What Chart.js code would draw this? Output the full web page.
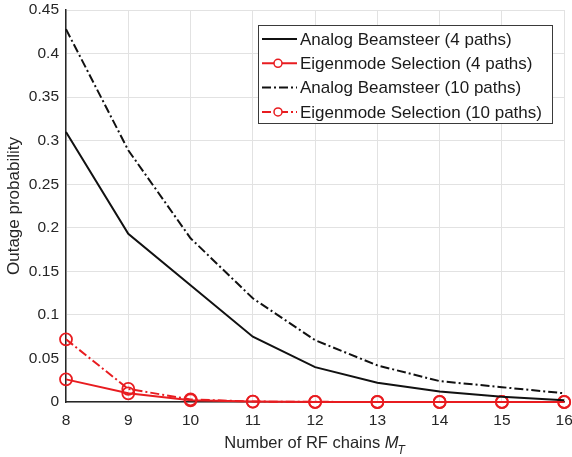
<!DOCTYPE html>
<html>
<head>
<meta charset="utf-8">
<script src="https://cdn.jsdelivr.net/npm/chart.js@4.4.0/dist/chart.umd.min.js"></script>
<style>
  html, body { margin: 0; padding: 0; background: #fff; }
  #wrap { width: 572px; height: 457px; }
</style>
</head>
<body>
<div id="wrap"><canvas id="myChart" width="572" height="457"></canvas></div>
<script>
const ctx = document.getElementById("myChart").getContext("2d");

const chains = [8, 9, 10, 11, 12, 13, 14, 15, 16];
const yTicks = ["0", "0.05", "0.1", "0.15", "0.2", "0.25", "0.3", "0.35", "0.4", "0.45"];

const analog4 = [0.310, 0.193, 0.134, 0.075, 0.040, 0.022, 0.012, 0.006, 0.002];
const eigen4 = [0.026, 0.010, 0.002, 0.0005, 0, 0, 0, 0, 0];
const analog10 = [0.428, 0.289, 0.188, 0.119, 0.071, 0.042, 0.024, 0.017, 0.010];
const eigen10 = [0.072, 0.015, 0.003, 0.0005, 0.0002, 0, 0, 0, 0];

const labels = [
    "Analog Beamsteer (4 paths)",
    "Eigenmode Selection (4 paths)",
    "Analog Beamsteer (10 paths)",
    "Eigenmode Selection (10 paths)",
];

const red = "rgb(232,28,32)";
const dashDot = [9, 3, 2, 3];
const font = "'Liberation Sans', Arial, sans-serif";

// legend box inside the plot, top right
const boxLegend = {
    id: "boxLegend",
    afterDatasetsDraw(chart) {
        const c = chart.ctx;
        const x = 258, y = 25, w = 294, h = 98;
        c.save();
        c.fillStyle = "#fff";
        c.fillRect(x, y, w, h);
        c.strokeStyle = "#3a3a3a";
        c.lineWidth = 1;
        c.strokeRect(x + 0.5, y + 0.5, w, h);
        c.font = "17px " + font;
        c.textBaseline = "middle";
        chart.data.datasets.forEach((ds, i) => {
            const ry = y + 14 + i * 24.3;
            c.strokeStyle = ds.borderColor;
            c.lineWidth = ds.borderWidth;
            c.setLineDash(ds.borderDash || []);
            c.beginPath();
            c.moveTo(x + 4, ry);
            c.lineTo(x + 39, ry);
            c.stroke();
            c.setLineDash([]);
            if (ds.pointRadius > 0) {
                c.lineWidth = 1.5;
                c.beginPath();
                c.arc(x + 20, ry, 4, 0, Math.PI * 2);
                c.fillStyle = "#fff";
                c.fill();
                c.stroke();
            }
            c.fillStyle = "#1a1a1a";
            c.fillText(ds.label, x + 42, ry + 1);
        });
        c.restore();
    }
};

// x axis title with italic M and subscript T
const xTitle = {
    id: "xTitle",
    afterDraw(chart) {
        const c = chart.ctx;
        const a = chart.chartArea;
        const main = "Number of RF chains ";
        c.save();
        c.fillStyle = "#262626";
        c.textBaseline = "alphabetic";
        c.font = "16.5px " + font;
        const w1 = c.measureText(main).width;
        c.font = "italic 16.5px " + font;
        const w2 = c.measureText("M").width;
        c.font = "italic 12px " + font;
        const w3 = c.measureText("T").width;
        let x0 = (a.left + a.right) / 2 - (w1 + w2 + w3) / 2;
        const yb = 448;
        c.font = "16.5px " + font;
        c.fillText(main, x0, yb);
        c.font = "italic 16.5px " + font;
        c.fillText("M", x0 + w1, yb);
        c.font = "italic 12px " + font;
        c.fillText("T", x0 + w1 + w2 - 1, yb + 6);
        c.restore();
    }
};

const mk = (label, values, color, dash, points) => ({
    label: label,
    data: values,
    borderColor: color,
    backgroundColor: "rgba(0,0,0,0)",
    borderWidth: 2,
    borderDash: dash,
    pointRadius: points ? 6 : 0,
    pointBorderWidth: 1.8,
    pointBorderColor: color,
    pointBackgroundColor: "rgba(0,0,0,0)",
    tension: 0,
});

const data = {
    labels: chains,
    datasets: [
        mk(labels[0], analog4, "#111", [], false),
        mk(labels[1], eigen4, red, [], true),
        mk(labels[2], analog10, "#111", dashDot, false),
        mk(labels[3], eigen10, red, dashDot, true),
    ],
};

const config = {
    type: "line",
    data: data,
    plugins: [boxLegend, xTitle],
    options: {
        responsive: false,
        animation: false,
        clip: false,
        layout: { padding: { top: 10, right: 5, left: 4, bottom: 0 } },
        plugins: {
            legend: { display: false },
            tooltip: { enabled: false },
        },
        scales: {
            x: {
                type: "linear",
                min: 8,
                max: 16,
                afterFit: (s) => { s.height = 55; s.paddingLeft = 0; s.paddingRight = 0; },
                grid: { color: "#e2e2e2", drawTicks: false },
                border: { color: "#262626", width: 1.5 },
                ticks: {
                    stepSize: 1,
                    padding: 9,
                    color: "#262626",
                    font: { family: font, size: 15.5 },
                },
            },
            y: {
                min: 0,
                max: 0.45,
                afterFit: (s) => { s.width = 62; s.paddingTop = 0; s.paddingBottom = 0; },
                grid: { color: "#e2e2e2", drawTicks: false },
                border: { color: "#262626", width: 1.5 },
                title: {
                    display: true,
                    text: "Outage probability",
                    color: "#262626",
                    font: { family: font, size: 17 },
                    padding: 0,
                },
                ticks: {
                    stepSize: 0.05,
                    padding: 7,
                    color: "#262626",
                    font: { family: font, size: 15.5 },
                    callback: (v, i) => yTicks[i],
                },
            },
        },
    },
};

const myChart = new Chart(ctx, config);
</script>
</body>
</html>
